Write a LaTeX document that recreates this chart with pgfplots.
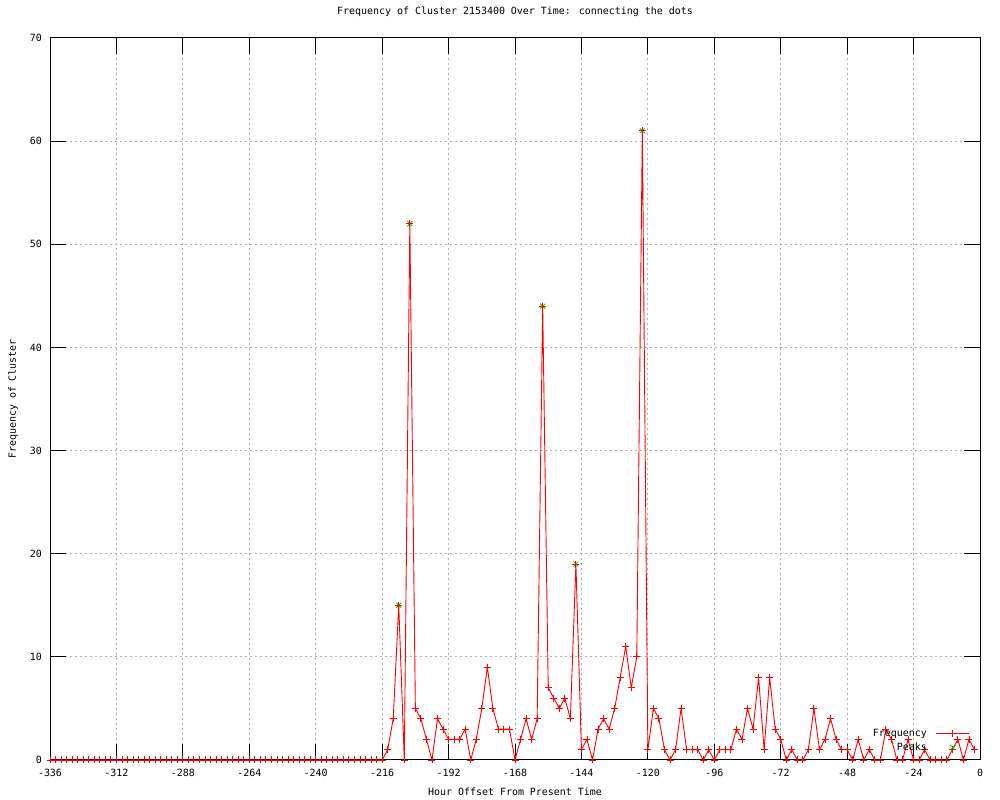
\documentclass[border=0pt]{standalone}
\usepackage{pgfplots}
\pgfplotsset{compat=1.18}
\usepackage{pgfplotstable}
\usepackage{fontspec}
\setmainfont{DejaVu Sans Mono}
\setmonofont{DejaVu Sans Mono}
\definecolor{gpred}{RGB}{255,0,0}
\definecolor{gpgreen}{RGB}{0,192,0}
\pgfplotsset{longleg/.style={legend image code/.code={\draw[mark repeat=2,mark phase=2,##1] plot coordinates {(0bp,0bp) (16.5bp,0bp) (33bp,0bp)};}}}
\pgfplotstableread{
x y
-336 0
-334 0
-332 0
-330 0
-328 0
-326 0
-324 0
-322 0
-320 0
-318 0
-316 0
-314 0
-312 0
-310 0
-308 0
-306 0
-304 0
-302 0
-300 0
-298 0
-296 0
-294 0
-292 0
-290 0
-288 0
-286 0
-284 0
-282 0
-280 0
-278 0
-276 0
-274 0
-272 0
-270 0
-268 0
-266 0
-264 0
-262 0
-260 0
-258 0
-256 0
-254 0
-252 0
-250 0
-248 0
-246 0
-244 0
-242 0
-240 0
-238 0
-236 0
-234 0
-232 0
-230 0
-228 0
-226 0
-224 0
-222 0
-220 0
-218 0
-216 0
-214 1
-212 4
-210 15
-208 0
-206 52
-204 5
-202 4
-200 2
-198 0
-196 4
-194 3
-192 2
-190 2
-188 2
-186 3
-184 0
-182 2
-180 5
-178 9
-176 5
-174 3
-172 3
-170 3
-168 0
-166 2
-164 4
-162 2
-160 4
-158 44
-156 7
-154 6
-152 5
-150 6
-148 4
-146 19
-144 1
-142 2
-140 0
-138 3
-136 4
-134 3
-132 5
-130 8
-128 11
-126 7
-124 10
-122 61
-120 1
-118 5
-116 4
-114 1
-112 0
-110 1
-108 5
-106 1
-104 1
-102 1
-100 0
-98 1
-96 0
-94 1
-92 1
-90 1
-88 3
-86 2
-84 5
-82 3
-80 8
-78 1
-76 8
-74 3
-72 2
-70 0
-68 1
-66 0
-64 0
-62 1
-60 5
-58 1
-56 2
-54 4
-52 2
-50 1
-48 1
-46 0
-44 2
-42 0
-40 1
-38 0
-36 0
-34 3
-32 2
-30 0
-28 0
-26 2
-24 0
-22 0
-20 1
-18 0
-16 0
-14 0
-12 0
-10 1
-8 2
-6 0
-4 2
-2 1
}\freqdata
\pgfplotstableread{
x y
-210 15
-206 52
-158 44
-146 19
-122 61
}\peakdata
\begin{document}
\begin{tikzpicture}[x=1bp,y=1bp]
\useasboundingbox (0,0) rectangle (1000,800);
\begin{axis}[
  at={(50bp,40bp)}, anchor=south west,
  scale only axis, width=930bp, height=722bp,
  xmin=-336, xmax=0, ymin=0, ymax=70,
  xtick={-336,-312,-288,-264,-240,-216,-192,-168,-144,-120,-96,-72,-48,-24,0},
  xticklabels={-336,-312,-288,-264,-240,-216,-192,-168,-144,-120,-96,-72,-48,-24,0},
  ytick={0,10,20,30,40,50,60,70},
  yticklabels={0,10,20,30,40,50,60,70},
  font=\fontsize{10}{12}\selectfont,
  tick label style={font=\fontsize{10}{12}\selectfont},
  xticklabel style={anchor=base, yshift=-17bp},
  yticklabel style={xshift=-4.5bp},
  tick align=inside, major tick length=16bp,
  tick style={black, line width=1bp},
  axis line style={black, line width=1bp},
  grid=major,
  major grid style={gray!60, line width=1bp, dash pattern=on 2bp off 3bp},
  title={Frequency of Cluster 2153400 Over Time: connecting the dots},
  title style={at={(axis description cs:0.5,1)}, anchor=center, yshift=20bp, font=\fontsize{10}{12}\selectfont},
  xlabel={Hour Offset From Present Time},
  xlabel style={at={(axis description cs:0.5,0)}, anchor=center, yshift=-32bp},
  ylabel={Frequency of Cluster},
  ylabel style={at={(axis description cs:0,0.5)}, anchor=center, yshift=37bp},
  clip=false,
  reverse legend,
  legend plot pos=right,
  legend cell align=right,
  legend style={draw=none, fill=none, at={(axis description cs:0.9892,0.0457)}, anchor=north east,
    font=\fontsize{10}{12}\selectfont, row sep=1bp, column sep=7bp, inner sep=0pt},
]
\addplot[only marks, mark=x, mark size=3.5bp, color=gpgreen, mark options={line width=0.8bp}, longleg]
  table[x=x,y=y]{\peakdata};
\addlegendentry{Peaks}
\addplot[color=gpred, line width=0.9bp, mark=+, mark size=3.5bp, mark options={line width=0.9bp}, longleg]
  table[x=x,y=y]{\freqdata};
\addlegendentry{Frequency}
\end{axis}
\end{tikzpicture}
\end{document}
